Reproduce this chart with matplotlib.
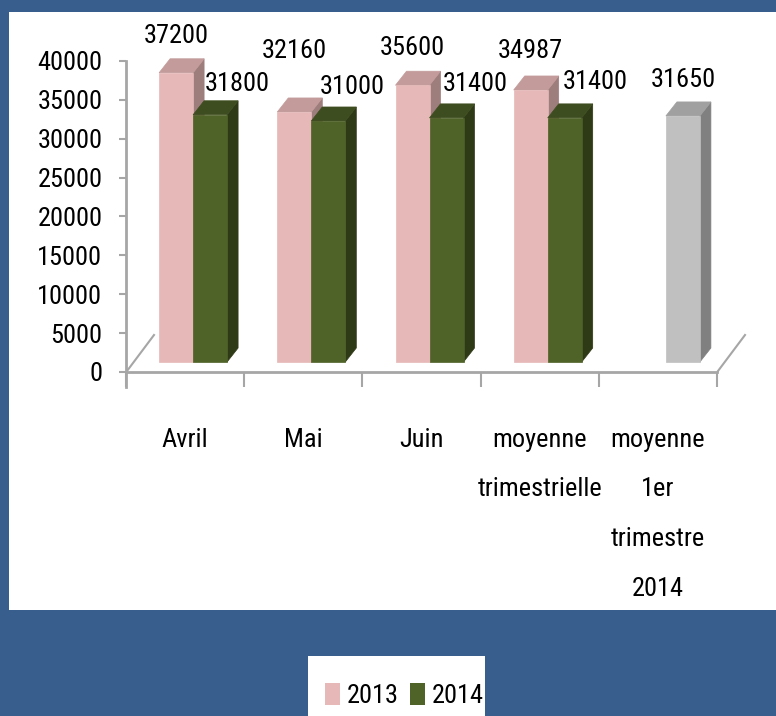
import numpy as np
import matplotlib.pyplot as plt
from matplotlib import font_manager as fm
from matplotlib.patches import Polygon, Rectangle, Patch
from matplotlib.lines import Line2D
from matplotlib.transforms import IdentityTransform

W, H = 776, 716

# look for a narrow font like the Calibri-ish one of the original
FONT = {"family": "DejaVu Sans", "stretch": "normal"}
FS = 13.5
fonts = fm.fontManager.ttflist
names = {f.name for f in fonts}
for cand in ["Liberation Sans Narrow", "Arial Narrow", "Roboto Condensed", "Open Sans Condensed",
             "Noto Sans Condensed", "Noto Sans Display Condensed"]:
    if cand in names:
        FONT = {"family": cand, "stretch": "normal"}
        FS = 19
        break
else:
    cond = [f for f in fonts if f.stretch in ("condensed", "semi-condensed", 500, 600, 300)
            and f.style == "normal" and f.weight in ("normal", "regular", 400)]
    if cond:
        FONT = {"family": cond[0].name, "stretch": cond[0].stretch}
        FS = 17
plt.rcParams["font.family"] = [FONT["family"], "DejaVu Sans"]
plt.rcParams["font.stretch"] = FONT["stretch"]

CATEGORIES = ["Avril", "Mai", "Juin", "moyenne\ntrimestrielle", "moyenne\n1er\ntrimestre\n2014"]
SERIES = ["2013", "2014"]
VALUES_2013 = [37200, 32160, 35600, 34987, np.nan]
VALUES_2014 = [31800, 31000, 31400, 31400, 31650]

# colours: front, top, side
PINK = ["#E6B9B8", "#C29B9A", "#9E7E7D"]
GREEN = ["#4F6228", "#3E4D1F", "#2E3916"]
GREY = ["#C0C0C0", "#A0A0A0", "#808080"]
AXIS_GREY = "#A6A6A6"
BG_BLUE = "#385E8D"

# label offsets in pixels relative to bar front top centre
LABEL_DX = [[0, 0, 0, 0, 0], [27, 24, 29, 31, 0]]
LABEL_DY = [[39, 63, 40, 41, 0], [33, 36, 36, 38, 38]]

BAR_W = 34 / 118.2
BACK = np.array([8, 10])    # bars sit a bit behind the front plane
DEPTH = np.array([11, 14])  # 3d depth of a bar
FLOOR = np.array([28, 37])
PX = FS * 100 / 72          # font size in pixels

fig = plt.figure(figsize=(W / 100, H / 100), dpi=100)
fig.patch.set_facecolor(BG_BLUE)
fig.add_artist(Rectangle((9 / W, 1 - 610 / H), 1, (610 - 12) / H, transform=fig.transFigure,
                         facecolor="white", edgecolor="none", zorder=-10))

ax = fig.add_axes([126 / W, 1 - 372 / H, 591 / W, 311 / H])
ax.set_facecolor("none")
ax.set_xlim(-0.5, 4.5)
ax.set_ylim(0, 40000)
for sp in ["top", "right"]:
    ax.spines[sp].set_visible(False)
for sp in ["left", "bottom"]:
    ax.spines[sp].set_color(AXIS_GREY)
    ax.spines[sp].set_linewidth(2)

ax.set_yticks(range(0, 40001, 5000))
ax.tick_params(axis="y", direction="out", length=5, width=1.5, color=AXIS_GREY,
               labelsize=FS, pad=12)
ax.set_xticks(range(len(CATEGORIES)))
ax.set_xticklabels(CATEGORIES, fontsize=FS)
ax.set_xticks(np.arange(-0.5, 5, 1), minor=True)
ax.tick_params(axis="x", which="major", length=0, pad=40)
ax.tick_params(axis="x", which="minor", length=10.8, width=1.5, color=AXIS_GREY)
for t in ax.get_xticklabels():
    t.set_linespacing(2.35 * 19 / FS)

def disp(x, y):
    return ax.transData.transform((x, y))

# extend left axis line below zero and draw the floor diagonals
p0 = disp(-0.5, 0)
p1 = disp(4.5, 0)
ax.add_line(Line2D([p0[0], p0[0]], [p0[1], p0[1] - 15], transform=IdentityTransform(),
                   color=AXIS_GREY, lw=2, clip_on=False))
for p in [p0, p1]:
    ax.add_line(Line2D([p[0] + 1, p[0] + FLOOR[0]], [p[1] + 1, p[1] + FLOOR[1]],
                       transform=IdentityTransform(), color=AXIS_GREY, lw=1.5, clip_on=False))

z = 2
for i in range(len(CATEGORIES)):
    for s, vals in enumerate([VALUES_2013, VALUES_2014]):
        v = vals[i]
        if np.isnan(v):
            continue
        cols = PINK if s == 0 else GREEN
        if s == 1 and np.isnan(VALUES_2013[i]):
            cols = GREY
        x0 = i - BAR_W if s == 0 else i
        X0, Y0 = disp(x0, 0) + BACK
        X1, Y1 = disp(x0 + BAR_W, v) + BACK
        dx, dy = DEPTH
        front = [(X0, Y0), (X1, Y0), (X1, Y1), (X0, Y1)]
        side = [(X1, Y0), (X1 + dx, Y0 + dy), (X1 + dx, Y1 + dy), (X1, Y1)]
        top = [(X0, Y1), (X1, Y1), (X1 + dx, Y1 + dy), (X0 + dx, Y1 + dy)]
        for poly, c in [(side, cols[2]), (top, cols[1]), (front, cols[0])]:
            ax.add_patch(Polygon(poly, closed=True, facecolor=c, edgecolor=c, lw=0.5,
                                 transform=IdentityTransform(), clip_on=False, zorder=z))
        z += 0.01
        ax.annotate(f"{v:.0f}", xy=(x0 + BAR_W / 2, v),
                    xytext=(BACK[0] + LABEL_DX[s][i], BACK[1] + LABEL_DY[s][i] - 9.5),
                    textcoords="offset pixels", ha="center", va="baseline",
                    fontsize=FS, color="black", annotation_clip=False, zorder=10)

# legend
fig.add_artist(Rectangle((308 / W, 0), 177 / W, 60 / H, transform=fig.transFigure,
                         facecolor="white", edgecolor="none", zorder=-5))
handles = [Patch(facecolor=PINK[0]), Patch(facecolor=GREEN[0])]
fig.legend(handles, SERIES, loc="upper left", bbox_to_anchor=(325 / W, 1 - 683 / H),
           ncol=2, frameon=False, fontsize=FS, handlelength=15 / PX, handleheight=24 / PX,
           handletextpad=7 / PX, columnspacing=11 / PX, borderpad=0, borderaxespad=0)

fig.savefig("out.png", dpi=100, facecolor=fig.get_facecolor())
